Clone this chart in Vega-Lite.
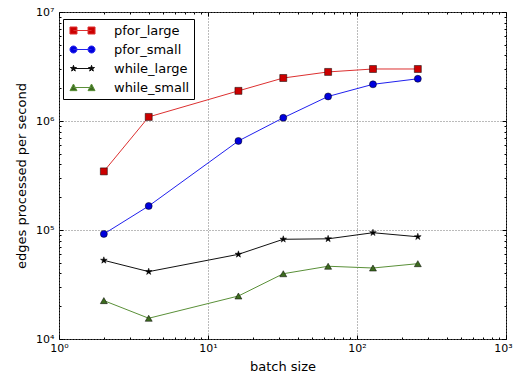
{
  "$schema": "https://vega.github.io/schema/vega-lite/v6.json",
  "width": 447,
  "height": 327,
  "autosize": {"type": "none"},
  "padding": {"left": 59, "top": 12, "right": 8, "bottom": 34},
  "background": "white",
  "config": {
    "font": "DejaVu Sans",
    "view": {"stroke": "black", "strokeWidth": 1},
    "axis": {"domain": false, "labelColor": "black", "titleColor": "black", "tickColor": "black", "labelFont": "DejaVu Sans", "titleFont": "DejaVu Sans", "titleFontWeight": "normal"}
  },
  "data": {
    "values": [
      {"series": "pfor_large", "batch": 2, "eps": 345000},
      {"series": "pfor_large", "batch": 4, "eps": 1090000},
      {"series": "pfor_large", "batch": 16, "eps": 1890000},
      {"series": "pfor_large", "batch": 32, "eps": 2480000},
      {"series": "pfor_large", "batch": 64, "eps": 2820000},
      {"series": "pfor_large", "batch": 128, "eps": 3000000},
      {"series": "pfor_large", "batch": 256, "eps": 3000000},
      {"series": "pfor_small", "batch": 2, "eps": 92000},
      {"series": "pfor_small", "batch": 4, "eps": 166000},
      {"series": "pfor_small", "batch": 16, "eps": 656000},
      {"series": "pfor_small", "batch": 32, "eps": 1070000},
      {"series": "pfor_small", "batch": 64, "eps": 1680000},
      {"series": "pfor_small", "batch": 128, "eps": 2170000},
      {"series": "pfor_small", "batch": 256, "eps": 2440000},
      {"series": "while_large", "batch": 2, "eps": 52700},
      {"series": "while_large", "batch": 4, "eps": 41500},
      {"series": "while_large", "batch": 16, "eps": 59800},
      {"series": "while_large", "batch": 32, "eps": 82200},
      {"series": "while_large", "batch": 64, "eps": 83000},
      {"series": "while_large", "batch": 128, "eps": 94400},
      {"series": "while_large", "batch": 256, "eps": 86700},
      {"series": "while_small", "batch": 2, "eps": 22500},
      {"series": "while_small", "batch": 4, "eps": 15500},
      {"series": "while_small", "batch": 16, "eps": 24800},
      {"series": "while_small", "batch": 32, "eps": 39700},
      {"series": "while_small", "batch": 64, "eps": 46500},
      {"series": "while_small", "batch": 128, "eps": 44800},
      {"series": "while_small", "batch": 256, "eps": 49100}
    ]
  },
  "layer": [
    {
      "mark": {"type": "point", "size": 0, "opacity": 0},
      "encoding": {
        "x": {"field": "batch", "type": "quantitative",
          "scale": {"type": "log", "domain": [1, 1000], "nice": false},
          "axis": {"orient": "bottom", "title": "batch size", "titleFontSize": 13, "titlePadding": 5,
            "values": [1,2,3,4,5,6,7,8,9,10,20,30,40,50,60,70,80,90,100,200,300,400,500,600,700,800,900,1000],
            "labelExpr": "abs(log(datum.value)/LN10 - round(log(datum.value)/LN10)) < 0.001 ? '10' + ['⁰','¹','²','³','⁴','⁵','⁶','⁷'][round(log(datum.value)/LN10)] : ''",
            "labelFontSize": 11, "labelPadding": 7, "labelFlush": false, "labelOverlap": false,
            "labelOffset": {"condition": {"test": "datum.value > 999", "value": -3}, "value": 0},
            "grid": true, "gridColor": "#777777", "gridDash": [1, 2], "gridWidth": 1,
            "gridOpacity": {"condition": {"test": "abs(log(datum.value)/LN10 - round(log(datum.value)/LN10)) < 0.001", "value": 1}, "value": 0},
            "tickSize": {"condition": {"test": "abs(log(datum.value)/LN10 - round(log(datum.value)/LN10)) < 0.001", "value": -4}, "value": -2}
          }},
        "y": {"field": "eps", "type": "quantitative",
          "scale": {"type": "log", "domain": [10000, 10000000], "nice": false},
          "axis": {"orient": "left", "title": "edges processed per second", "titleFontSize": 13, "titlePadding": 7,
            "values": [10000,20000,30000,40000,50000,60000,70000,80000,90000,100000,200000,300000,400000,500000,600000,700000,800000,900000,1000000,2000000,3000000,4000000,5000000,6000000,7000000,8000000,9000000,10000000],
            "labelExpr": "abs(log(datum.value)/LN10 - round(log(datum.value)/LN10)) < 0.001 ? '10' + ['⁰','¹','²','³','⁴','⁵','⁶','⁷'][round(log(datum.value)/LN10)] : ''",
            "labelFontSize": 11, "labelPadding": 9, "labelFlush": false, "labelOverlap": false,
            "grid": true, "gridColor": "#777777", "gridDash": [1, 2], "gridWidth": 1,
            "gridOpacity": {"condition": {"test": "abs(log(datum.value)/LN10 - round(log(datum.value)/LN10)) < 0.001", "value": 1}, "value": 0},
            "tickSize": {"condition": {"test": "abs(log(datum.value)/LN10 - round(log(datum.value)/LN10)) < 0.001", "value": -4}, "value": -2}
          }}
      }
    },
    {
      "mark": {"type": "point", "size": 0, "opacity": 0},
      "encoding": {
        "x": {"field": "batch", "type": "quantitative",
          "axis": {"orient": "top", "title": null, "labels": false, "grid": false,
            "values": [1,2,3,4,5,6,7,8,9,10,20,30,40,50,60,70,80,90,100,200,300,400,500,600,700,800,900,1000],
            "tickSize": {"condition": {"test": "abs(log(datum.value)/LN10 - round(log(datum.value)/LN10)) < 0.001", "value": -4}, "value": -2}
          }},
        "y": {"field": "eps", "type": "quantitative",
          "axis": {"orient": "right", "title": null, "labels": false, "grid": false,
            "values": [10000,20000,30000,40000,50000,60000,70000,80000,90000,100000,200000,300000,400000,500000,600000,700000,800000,900000,1000000,2000000,3000000,4000000,5000000,6000000,7000000,8000000,9000000,10000000],
            "tickSize": {"condition": {"test": "abs(log(datum.value)/LN10 - round(log(datum.value)/LN10)) < 0.001", "value": -4}, "value": -2}
          }}
      }
    },
    {
      "transform": [{"filter": "datum.series === 'pfor_large'"}],
      "encoding": {
        "x": {"field": "batch", "type": "quantitative", "axis": null},
        "y": {"field": "eps", "type": "quantitative", "axis": null}
      },
      "layer": [
        {"mark": {"type": "line", "strokeWidth": 1, "color": "#dd3030"}},
        {"mark": {"type": "point", "shape": "square", "filled": true, "size": 49, "fill": "#cc0000", "stroke": "black", "strokeWidth": 0.5, "opacity": 1}}
      ]
    },
    {
      "transform": [{"filter": "datum.series === 'pfor_small'"}],
      "encoding": {
        "x": {"field": "batch", "type": "quantitative", "axis": null},
        "y": {"field": "eps", "type": "quantitative", "axis": null}
      },
      "layer": [
        {"mark": {"type": "line", "strokeWidth": 1, "color": "#2020ee"}},
        {"mark": {"type": "point", "shape": "circle", "filled": true, "size": 49, "fill": "#0000dd", "stroke": "black", "strokeWidth": 0.5, "opacity": 1}}
      ]
    },
    {
      "transform": [{"filter": "datum.series === 'while_large'"}],
      "encoding": {
        "x": {"field": "batch", "type": "quantitative", "axis": null},
        "y": {"field": "eps", "type": "quantitative", "axis": null}
      },
      "layer": [
        {"mark": {"type": "line", "strokeWidth": 1, "color": "#111111"}},
        {"mark": {"type": "point", "shape": "M0,-1L0.225,-0.309L0.951,-0.309L0.363,0.118L0.588,0.809L0,0.382L-0.588,0.809L-0.363,0.118L-0.951,-0.309L-0.225,-0.309Z", "filled": true, "size": 49, "fill": "black", "stroke": "black", "strokeWidth": 0.5, "opacity": 1}}
      ]
    },
    {
      "transform": [{"filter": "datum.series === 'while_small'"}],
      "encoding": {
        "x": {"field": "batch", "type": "quantitative", "axis": null},
        "y": {"field": "eps", "type": "quantitative", "axis": null}
      },
      "layer": [
        {"mark": {"type": "line", "strokeWidth": 1, "color": "#5a9038"}},
        {"mark": {"type": "point", "shape": "triangle-up", "filled": true, "size": 49, "fill": "#3d6b1f", "stroke": "black", "strokeWidth": 0.5, "opacity": 1}}
      ]
    },
    {
      "mark": {"type": "point", "filled": true, "size": 0},
      "encoding": {
        "x": {"field": "batch", "type": "quantitative", "axis": null},
        "y": {"field": "eps", "type": "quantitative", "axis": null},
        "fill": {"field": "series", "type": "nominal",
          "scale": {"domain": ["pfor_large", "pfor_small", "while_large", "while_small"], "range": ["#cc0000", "#0000dd", "#000000", "#3d6b1f"]},
          "legend": {"title": null, "orient": "none", "legendX": 4, "legendY": 7, "strokeColor": "black", "fillColor": "white", "padding": 4,
            "symbolSize": 196, "symbolOffset": 8, "labelOffset": 24, "rowPadding": 4,
            "labelFontSize": 13, "labelFont": "DejaVu Sans", "labelColor": "black", "symbolOpacity": 1, "symbolStrokeWidth": 1}},
        "stroke": {"field": "series", "type": "nominal",
          "scale": {"domain": ["pfor_large", "pfor_small", "while_large", "while_small"], "range": ["#dd3030", "#2020ee", "#111111", "#5a9038"]},
          "legend": {"title": null, "orient": "none", "legendX": 4, "legendY": 7, "strokeColor": "black", "fillColor": "white", "padding": 4,
            "symbolSize": 196, "symbolOffset": 8, "labelOffset": 24, "rowPadding": 4,
            "labelFontSize": 13, "labelFont": "DejaVu Sans", "labelColor": "black", "symbolOpacity": 1, "symbolStrokeWidth": 1}},
        "shape": {"field": "series", "type": "nominal",
          "scale": {"domain": ["pfor_large", "pfor_small", "while_large", "while_small"],
            "range": [
              "M-1.29,0H1.29M-1.79,-0.5H-0.79V0.5H-1.79ZM0.79,-0.5H1.79V0.5H0.79Z",
              "M-1.29,0H1.29M-1.79,0A0.5,0.5,0,1,0,-0.79,0A0.5,0.5,0,1,0,-1.79,0ZM0.79,0A0.5,0.5,0,1,0,1.79,0A0.5,0.5,0,1,0,0.79,0Z",
              "M-1.29,0H1.29M-1.29,-0.45L-1.189,-0.139L-0.862,-0.139L-1.127,0.053L-1.025,0.364L-1.29,0.172L-1.555,0.364L-1.453,0.053L-1.718,-0.139L-1.391,-0.139ZM1.29,-0.45L1.391,-0.139L1.718,-0.139L1.453,0.053L1.555,0.364L1.29,0.172L1.025,0.364L1.127,0.053L0.862,-0.139L1.189,-0.139Z",
              "M-1.29,0H1.29M-1.29,-0.5L-0.79,0.45L-1.79,0.45ZM1.29,-0.5L1.79,0.45L0.79,0.45Z"
            ]},
          "legend": {"title": null, "orient": "none", "legendX": 4, "legendY": 7, "strokeColor": "black", "fillColor": "white", "padding": 4,
            "symbolSize": 196, "symbolOffset": 8, "labelOffset": 24, "rowPadding": 4,
            "labelFontSize": 13, "labelFont": "DejaVu Sans", "labelColor": "black", "symbolOpacity": 1, "symbolStrokeWidth": 1}}
      }
    }
  ],
  "resolve": {"axis": {"x": "independent", "y": "independent"}}
}
